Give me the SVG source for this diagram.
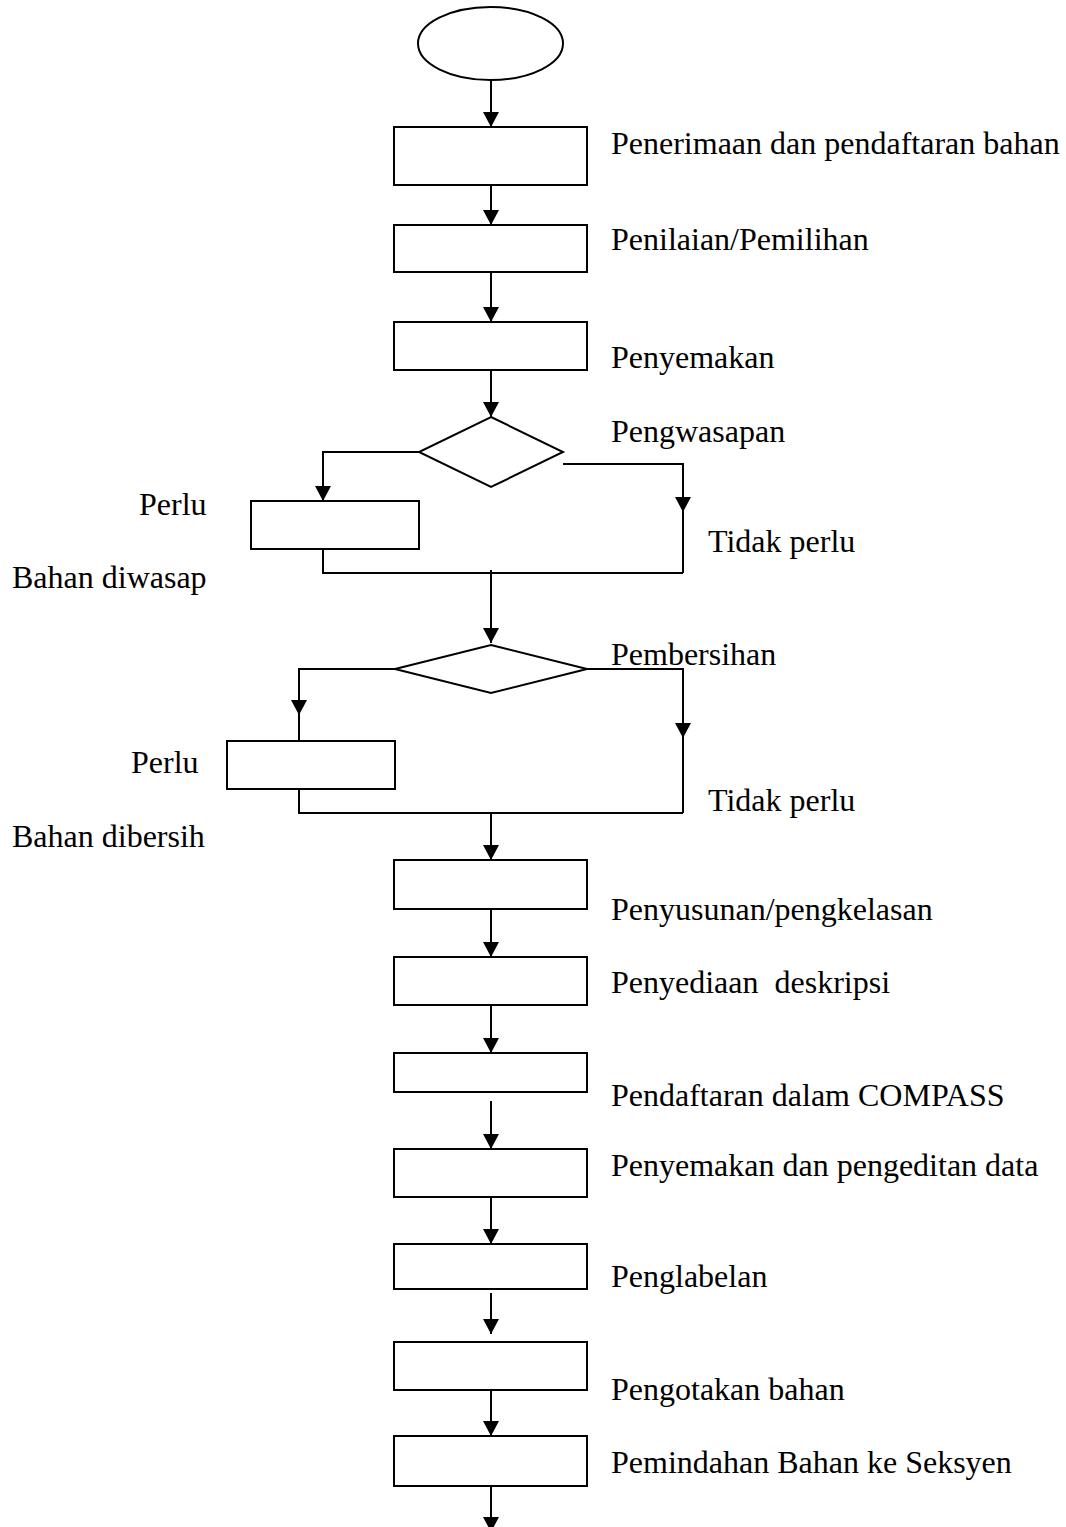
<svg xmlns="http://www.w3.org/2000/svg" width="1066" height="1527" viewBox="0 0 1066 1527">
<style>
.s{fill:#fff;stroke:#000;stroke-width:2}
.c{fill:none;stroke:#000;stroke-width:2}
.t{font-family:"Liberation Serif","Times New Roman",serif;font-size:32px;fill:#000}
</style>
<defs>
<marker id="ah" markerUnits="userSpaceOnUse" viewBox="0 0 15 16" markerWidth="15" markerHeight="16" refX="15" refY="8" orient="auto">
<path d="M0,0 L15,8 L0,16 z" fill="#000"/>
</marker>
</defs>
<rect width="1066" height="1527" fill="#fff"/>
<g id="connectors">
<path class="c" d="M491,80 V127" marker-end="url(#ah)"/>
<path class="c" d="M491,172 V225" marker-end="url(#ah)"/>
<path class="c" d="M491,272 V322" marker-end="url(#ah)"/>
<path class="c" d="M491,370 V417" marker-end="url(#ah)"/>
<path class="c" d="M419,452 H323 V501" marker-end="url(#ah)"/>
<path class="c" d="M563,464 H683 V512" marker-end="url(#ah)"/>
<path class="c" d="M683,512 V573"/>
<path class="c" d="M323,549 V573 H683"/>
<path class="c" d="M491,570 V643" marker-end="url(#ah)"/>
<path class="c" d="M395,669 H299 V715" marker-end="url(#ah)"/>
<path class="c" d="M299,715 V741"/>
<path class="c" d="M587,669 H683 V738" marker-end="url(#ah)"/>
<path class="c" d="M683,738 V813"/>
<path class="c" d="M299,789 V813 H683"/>
<path class="c" d="M491,813 V860" marker-end="url(#ah)"/>
<path class="c" d="M491,909 V957" marker-end="url(#ah)"/>
<path class="c" d="M491,1005 V1053" marker-end="url(#ah)"/>
<path class="c" d="M491,1101 V1149" marker-end="url(#ah)"/>
<path class="c" d="M491,1197 V1244" marker-end="url(#ah)"/>
<path class="c" d="M491,1293 V1334" marker-end="url(#ah)"/>
<path class="c" d="M491,1390 V1436" marker-end="url(#ah)"/>
<path class="c" d="M491,1486 V1532" marker-end="url(#ah)"/>
</g>
<g id="start"><ellipse class="s" cx="490.5" cy="43.5" rx="72.5" ry="36.5"/></g>
<g id="n1"><rect class="s" x="394" y="127" width="193" height="58"/><text class="t" x="611" y="154">Penerimaan dan pendaftaran bahan</text></g>
<g id="n2"><rect class="s" x="394" y="225" width="193" height="47"/><text class="t" x="611" y="250">Penilaian/Pemilihan</text></g>
<g id="n3"><rect class="s" x="394" y="322" width="193" height="48"/><text class="t" x="611" y="368">Penyemakan</text></g>
<g id="d1"><polygon class="s" points="491,417 563,452 491,487 419,452"/><text class="t" x="611" y="442">Pengwasapan</text></g>
<g id="l1"><rect class="s" x="251" y="501" width="168" height="48"/><text class="t" x="139" y="515">Perlu</text><text class="t" x="12" y="588">Bahan diwasap</text></g>
<g id="lbl1"><text class="t" x="708" y="552">Tidak perlu</text></g>
<g id="d2"><polygon class="s" points="491,645 587,669 491,693 395,669"/><text class="t" x="611" y="665">Pembersihan</text></g>
<g id="l2"><rect class="s" x="227" y="741" width="168" height="48"/><text class="t" x="131" y="773">Perlu</text><text class="t" x="12" y="847">Bahan dibersih</text></g>
<g id="lbl2"><text class="t" x="708" y="811">Tidak perlu</text></g>
<g id="n4"><rect class="s" x="394" y="860" width="193" height="49"/><text class="t" x="611" y="920">Penyusunan/pengkelasan</text></g>
<g id="n5"><rect class="s" x="394" y="957" width="193" height="48"/><text class="t" x="611" y="993" xml:space="preserve">Penyediaan  deskripsi</text></g>
<g id="n6"><rect class="s" x="394" y="1053" width="193" height="39"/><text class="t" x="611" y="1106">Pendaftaran dalam COMPASS</text></g>
<g id="n7"><rect class="s" x="394" y="1149" width="193" height="48"/><text class="t" x="611" y="1176">Penyemakan dan pengeditan data</text></g>
<g id="n8"><rect class="s" x="394" y="1244" width="193" height="45"/><text class="t" x="611" y="1287">Penglabelan</text></g>
<g id="n9"><rect class="s" x="394" y="1342" width="193" height="48"/><text class="t" x="611" y="1400">Pengotakan bahan</text></g>
<g id="n10"><rect class="s" x="394" y="1436" width="193" height="50"/><text class="t" x="611" y="1473">Pemindahan Bahan ke Seksyen</text></g>
</svg>
